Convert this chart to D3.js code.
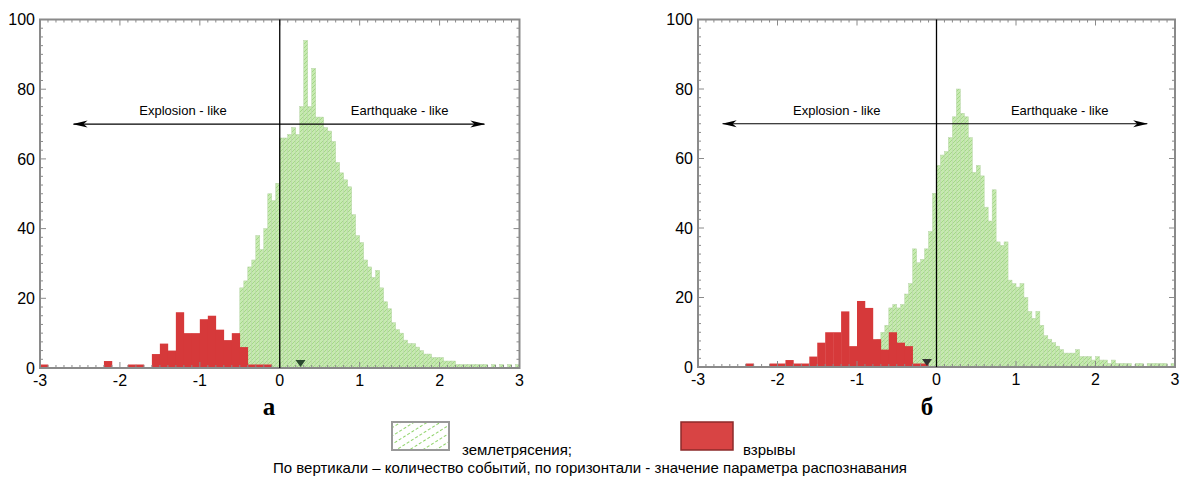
<!DOCTYPE html>
<html>
<head>
<meta charset="utf-8">
<script src="https://cdn.jsdelivr.net/npm/d3@7"></script>
<style>
  body { margin: 0; background: #fff; }
  svg { display: block; }
</style>
</head>
<body>
<svg id="chart" width="1180" height="482"></svg>
<script>
// Distribution of the recognition parameter: earthquakes (hatched green) and explosions (red)

const xTicks = [-3, -2, -1, 0, 1, 2, 3];
const yTicks = [0, 20, 40, 60, 80, 100];
const panelLabels = ["а", "б"];
const sideLabels = ["Explosion - like", "Earthquake - like"];
const legendLabels = ["землетрясения;", "взрывы"];
const footnote = "По вертикали – количество событий, по горизонтали - значение параметра распознавания";

const quakeBinWidth = 0.05;
const blastBinWidth = 0.1;

// Panel а
const quakeStartA = -0.5;
const quakeA = [
  23, 25, 29, 31, 38, 34, 40, 50, 48, 53,
  66, 66, 67, 69, 67, 75, 94, 75, 86, 72,
  72, 69, 68, 65, 59, 56, 54, 52, 44, 38,
  36, 31, 29, 26, 28, 23, 19, 17, 13, 11,
  10, 8, 7, 7, 6, 5, 4, 4, 3, 3,
  3, 2, 2, 2, 1, 1, 1, 1, 1, 1,
  1, 1, 0, 1, 0, 1, 0, 1, 0, 1
];
const blastStartA = -3.0;
const blastA = [
  1, 0, 0, 0, 0, 0, 0, 0, 2, 0,
  0, 1, 1, 0, 4, 7, 5, 16, 10, 10,
  14, 15, 11, 8, 10, 6, 1, 1, 1, 0
];
const markerA = 0.26;
const arrowA = [-2.58, 2.56];
const sideTextA = [-1.21, 1.5];

// Panel б
const quakeStartB = -0.75;
const quakeB = [
  8, 10, 12, 17, 18, 17, 18, 21, 24, 34, 30, 31, 34, 39, 50,
  58, 61, 62, 66, 72, 80, 73, 72, 66, 56,
  58, 55, 46, 42, 51, 36, 35, 36, 25, 24,
  23, 24, 20, 16, 14, 16, 12, 9, 8, 7,
  6, 5, 4, 4, 4, 5, 3, 3, 3, 2,
  3, 2, 2, 1, 2, 1, 1, 1, 1, 0,
  1, 1, 0, 1, 1, 1, 1, 1, 0, 1
];
const blastStartB = -3.0;
const blastB = [
  0, 0, 0, 0, 0, 0, 1, 0, 0, 1,
  1, 2, 1, 1, 3, 7, 10, 10, 16, 6,
  19, 17, 8, 5, 10, 7, 6, 1, 1, 0
];
const markerB = -0.12;
const arrowB = [-2.69, 2.65];
const sideTextB = [-1.255, 1.55];

const panels = [
  { quakeStart: quakeStartA, quake: quakeA, blastStart: blastStartA, blast: blastA,
    marker: markerA, markerColor: "#2c4a30", arrow: arrowA, sideText: sideTextA,
    label: panelLabels[0], left: 40, right: 519.5, top: 19.5, bottom: 368, labelX: 269 },
  { quakeStart: quakeStartB, quake: quakeB, blastStart: blastStartB, blast: blastB,
    marker: markerB, markerColor: "#333333", arrow: arrowB, sideText: sideTextB,
    label: panelLabels[1], left: 698, right: 1175, top: 19.5, bottom: 367, labelX: 927 }
];

const svg = d3.select("#chart");
const defs = svg.append("defs");

// dense hatch used inside the earthquake bars
const hatch = defs.append("pattern")
  .attr("id", "quakeHatch")
  .attr("patternUnits", "userSpaceOnUse")
  .attr("width", 4).attr("height", 4);
hatch.append("rect").attr("width", 4).attr("height", 4).attr("fill", "#c6eab0");
hatch.append("path")
  .attr("d", "M-1,1 l2,-2 M0,4 l4,-4 M3,5 l2,-2")
  .attr("stroke", "#a4d788").attr("stroke-width", 1);

// sparse dashed hatch for the legend swatch
const legendHatch = defs.append("pattern")
  .attr("id", "legendHatch")
  .attr("patternUnits", "userSpaceOnUse")
  .attr("width", 10).attr("height", 7)
  .attr("patternTransform", "rotate(-32)");
legendHatch.append("rect").attr("width", 10).attr("height", 7).attr("fill", "#ffffff");
legendHatch.append("line")
  .attr("x1", 0).attr("y1", 3.5).attr("x2", 10).attr("y2", 3.5)
  .attr("stroke", "#8fd36a").attr("stroke-width", 1.2)
  .attr("stroke-dasharray", "3,2");

defs.append("marker")
  .attr("id", "arrowHead")
  .attr("markerUnits", "userSpaceOnUse")
  .attr("markerWidth", 15).attr("markerHeight", 8)
  .attr("refX", 14).attr("refY", 4)
  .attr("orient", "auto-start-reverse")
  .append("path")
  .attr("d", "M0,0.5 L15,4 L0,7.5 L4,4 Z")
  .attr("fill", "#000");

const sans = "'Liberation Sans', Arial, Helvetica, sans-serif";
const frameColor = "#8a8a8a";

panels.forEach(p => {
  const x = d3.scaleLinear().domain([-3, 3]).range([p.left, p.right]);
  const y = d3.scaleLinear().domain([0, 100]).range([p.bottom, p.top]);
  const g = svg.append("g");

  // earthquake histogram
  g.append("g").selectAll("rect")
    .data(p.quake)
    .join("rect")
    .attr("x", (d, i) => x(p.quakeStart + i * quakeBinWidth))
    .attr("width", (d, i) => x(p.quakeStart + (i + 1) * quakeBinWidth) - x(p.quakeStart + i * quakeBinWidth))
    .attr("y", d => y(d))
    .attr("height", d => y(0) - y(d))
    .attr("fill", "url(#quakeHatch)")
    .attr("stroke", "#b8d4a8")
    .attr("stroke-width", 0.5);

  // explosion histogram
  g.append("g").selectAll("rect")
    .data(p.blast)
    .join("rect")
    .attr("x", (d, i) => x(p.blastStart + i * blastBinWidth))
    .attr("width", (d, i) => x(p.blastStart + (i + 1) * blastBinWidth) - x(p.blastStart + i * blastBinWidth) + 0.3)
    .attr("y", d => y(d))
    .attr("height", d => y(0) - y(d))
    .attr("fill", "#d6393a");

  // frame with inward minor/major ticks
  const ticks = g.append("g").attr("stroke", frameColor);
  d3.range(-30, 31).forEach(k => {
    const v = k / 10;
    const len = (k % 10 === 0) ? 6 : 3;
    ticks.append("line").attr("x1", x(v)).attr("x2", x(v)).attr("y1", y(100)).attr("y2", y(100) + len);
    ticks.append("line").attr("x1", x(v)).attr("x2", x(v)).attr("y1", y(0)).attr("y2", y(0) - len);
  });
  d3.range(0, 41).forEach(k => {
    const v = k * 2.5;
    const len = (k % 8 === 0) ? 6 : 3;
    ticks.append("line").attr("x1", x(-3)).attr("x2", x(-3) + len).attr("y1", y(v)).attr("y2", y(v));
    ticks.append("line").attr("x1", x(3)).attr("x2", x(3) - len).attr("y1", y(v)).attr("y2", y(v));
  });
  g.append("rect")
    .attr("x", x(-3)).attr("y", y(100))
    .attr("width", x(3) - x(-3)).attr("height", y(0) - y(100))
    .attr("fill", "none").attr("stroke", frameColor).attr("stroke-width", 2);

  // axis labels
  g.append("g").selectAll("text")
    .data(yTicks).join("text")
    .attr("x", x(-3) - 5).attr("y", d => y(d)).attr("dy", "0.36em")
    .attr("text-anchor", "end")
    .attr("font-family", sans).attr("font-size", 16).attr("fill", "#000")
    .text(d => d);
  g.append("g").selectAll("text")
    .data(xTicks).join("text")
    .attr("x", d => x(d)).attr("y", y(0) + 18)
    .attr("text-anchor", "middle")
    .attr("font-family", sans).attr("font-size", 16).attr("fill", "#000")
    .text(d => d);

  // decision boundary
  g.append("line")
    .attr("x1", x(0)).attr("x2", x(0)).attr("y1", y(100)).attr("y2", y(0))
    .attr("stroke", "#000").attr("stroke-width", 1.3);

  // two-way arrow with side captions
  g.append("line")
    .attr("x1", x(p.arrow[0])).attr("x2", x(p.arrow[1]))
    .attr("y1", y(70)).attr("y2", y(70))
    .attr("stroke", "#000").attr("stroke-width", 1.2)
    .attr("marker-start", "url(#arrowHead)")
    .attr("marker-end", "url(#arrowHead)");
  g.append("g").selectAll("text")
    .data(sideLabels).join("text")
    .attr("x", (d, i) => x(p.sideText[i])).attr("y", y(70) - 9)
    .attr("text-anchor", "middle")
    .attr("font-family", sans).attr("font-size", 13).attr("fill", "#000")
    .text(d => d);

  // threshold marker on the baseline
  const mx = x(p.marker), my = y(0) - 1;
  g.append("path")
    .attr("d", `M${mx - 5},${my - 7} L${mx + 5},${my - 7} L${mx},${my} Z`)
    .attr("fill", p.markerColor);

  // panel letter
  g.append("text")
    .attr("x", p.labelX).attr("y", 415)
    .attr("text-anchor", "middle")
    .attr("font-family", "'Liberation Serif', 'Times New Roman', serif")
    .attr("font-weight", "bold").attr("font-size", 25)
    .text(p.label);
});

// legend
const legend = svg.append("g");
legend.append("rect")
  .attr("x", 392).attr("y", 422).attr("width", 57).attr("height", 28)
  .attr("fill", "url(#legendHatch)").attr("stroke", "#999").attr("stroke-width", 2);
legend.append("text")
  .attr("x", 462).attr("y", 455)
  .attr("font-family", sans).attr("font-size", 15).text(legendLabels[0]);
legend.append("rect")
  .attr("x", 681).attr("y", 422).attr("width", 52).attr("height", 28)
  .attr("fill", "#d84444").attr("stroke", "#8c2a2a").attr("stroke-width", 1.5);
legend.append("text")
  .attr("x", 743).attr("y", 455)
  .attr("font-family", sans).attr("font-size", 15).text(legendLabels[1]);

svg.append("text")
  .attr("x", 590).attr("y", 473)
  .attr("text-anchor", "middle")
  .attr("font-family", sans).attr("font-size", 15)
  .text(footnote);
</script>
</body>
</html>
